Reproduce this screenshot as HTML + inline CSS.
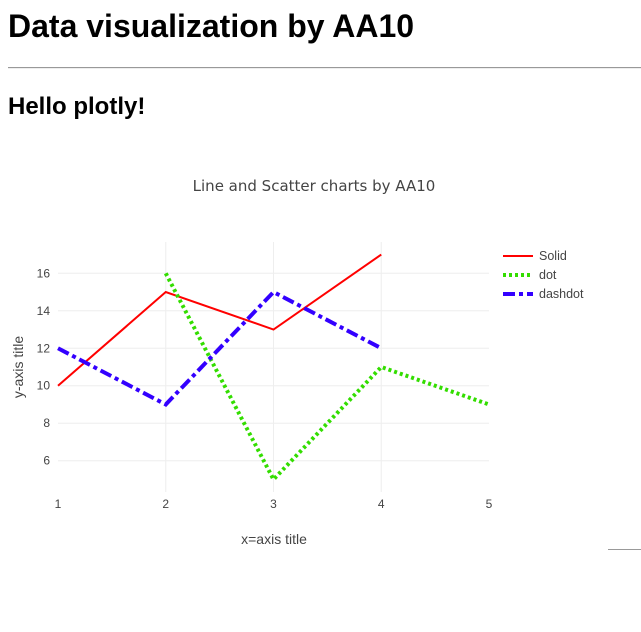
<!DOCTYPE html>
<html><head><meta charset="utf-8"><style>
body{margin:0;width:641px;height:632px;background:#fff;font-family:"Liberation Sans","Noto Sans CJK KR",sans-serif;position:relative;overflow:hidden}
h1{position:absolute;left:8px;top:8px;margin:0;font-size:32px;font-weight:bold;color:#000}
h2{position:absolute;left:8px;top:93px;margin:0;font-size:24px;font-weight:bold;color:#000}
.hr{position:absolute;left:8px;top:67px;width:633px;height:0;border-top:1px solid #999;border-bottom:1px solid #eee}
</style></head><body>
<h1>Data visualization by AA10</h1>
<div class="hr"></div>
<h2>Hello plotly!</h2>
<svg id="chart" width="641" height="632" style="position:absolute;left:0;top:0" font-family="Liberation Sans, sans-serif"></svg>
<div style="position:absolute;left:608px;top:549px;width:33px;border-top:1px solid #999"></div>
<script>
const xTicks=[1,2,3,4,5];
const yTicks=[6,8,10,12,14,16];
const solidX=[1,2,3,4], solidY=[10,15,13,17];
const dotX=[2,3,4,5], dotY=[16,5,11,9];
const dashX=[1,2,3,4], dashY=[12,9,15,12];
const seriesNames=["Solid","dot","dashdot"];
const L=58,R=489,T=242,B=492,xMin=1,xMax=5,yMin=4.33,yMax=17.67;
const sx=v=>L+(v-xMin)/(xMax-xMin)*(R-L);
const sy=v=>B-(v-yMin)/(yMax-yMin)*(B-T);
const svg=document.getElementById('chart');const NS='http://www.w3.org/2000/svg';
function mk(t,a,p){const e=document.createElementNS(NS,t);for(const k in a)e.setAttribute(k,a[k]);(p||svg).appendChild(e);return e;}
let t=mk('text',{x:314,y:191,'text-anchor':'middle','font-size':15,fill:'#444','font-family':'DejaVu Sans, sans-serif'});t.textContent='Line and Scatter charts by AA10';


yTicks.forEach(v=>{const g=mk('line',{x1:L,x2:R,y1:sy(v),y2:sy(v),stroke:'#eee'});


const tx=mk('text',{x:L-8,y:sy(v)+4,'text-anchor':'end','font-size':12,fill:'#444'});tx.textContent=v;

});
xTicks.forEach(v=>{if(v>xMin&&v<xMax){const g=mk('line',{x1:sx(v),x2:sx(v),y1:T,y2:B,stroke:'#eee'});

}
const tx=mk('text',{x:sx(v),y:508,'text-anchor':'middle','font-size':12,fill:'#444'});tx.textContent=v;

});
t=mk('text',{x:274,y:544,'text-anchor':'middle','font-size':14,fill:'#444'});t.textContent='x=axis title';


t=mk('text',{x:0,y:0,'text-anchor':'middle','font-size':14,fill:'#444',transform:'translate(23,367) rotate(-90)'});t.textContent='y-axis title';


const styles=[{c:'#ff0000',w:2,d:''},{c:'#33dd00',w:4,d:'3,3'},{c:'#3300ff',w:4,d:'12,4,4,4'}];
const data=[[solidX,solidY],[dotX,dotY],[dashX,dashY]];
data.forEach((s,i)=>{const st=styles[i];
const p=mk('polyline',{points:s[0].map((x,j)=>sx(x)+','+sy(s[1][j])).join(' '),fill:'none',stroke:st.c,'stroke-width':st.w,'stroke-dasharray':st.d});


const ly=256+i*19;
const g=mk('g',{});


mk('line',{x1:503,x2:533,y1:ly,y2:ly,stroke:st.c,'stroke-width':st.w,'stroke-dasharray':st.d},g);
const tx=mk('text',{x:539,y:ly+4,'font-size':12.5,fill:'#444'},g);tx.textContent=seriesNames[i];});
</script>
</body></html>
